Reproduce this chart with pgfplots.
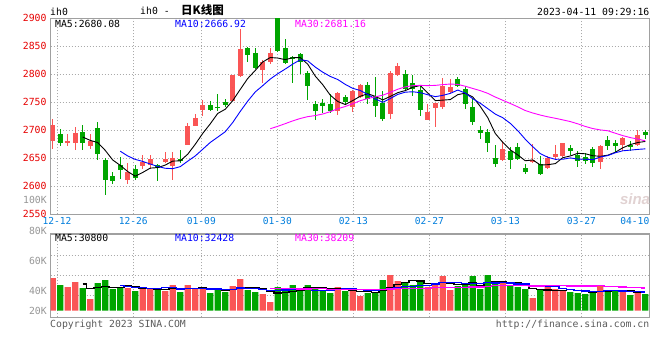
\documentclass[border=0pt]{standalone}
\usepackage{pgfplots}
\pgfplotsset{compat=1.18}
\usepackage{pgfplotstable}
\usepackage{fontspec}
\setmainfont{DejaVu Sans Mono}
\newfontfamily\cjk{Noto Sans CJK SC}
\newfontfamily\logofont{Liberation Sans}
\definecolor{cup}{RGB}{250,85,85}
\definecolor{cdn}{RGB}{0,165,0}
\definecolor{pricered}{RGB}{230,0,0}
\definecolor{dateblue}{RGB}{0,125,220}
\definecolor{bordergray}{RGB}{160,160,160}
\definecolor{gridgray}{RGB}{170,170,170}
\definecolor{labgray}{RGB}{150,150,150}
\definecolor{footgray}{RGB}{90,90,90}
\definecolor{mablue}{RGB}{0,0,255}
\definecolor{mamag}{RGB}{255,0,255}
\newcommand{\tf}{\fontsize{9.8}{10}\selectfont}

% candles: index, open, high, low, close, volume (bar height)
\pgfplotstableread{
i o h l c v
0 2681.6 2720.8 2666.1 2710.1 32.7
2 2676.8 2694.1 2671.4 2680.4 23.7
3 2676.8 2706.6 2664.3 2695.8 28.7
5 2671.4 2694.1 2666.1 2680.4 11.7
10 2610.7 2641.1 2604.8 2625.6 22.7
12 2635.7 2655.4 2631.0 2644.1 21.7
13 2638.1 2656.6 2631.0 2649.4 21.7
15 2642.9 2661.3 2641.1 2648.2 19.7
16 2635.7 2661.3 2610.7 2650.6 25.7
18 2674.4 2713.1 2673.2 2708.3 25.7
19 2708.3 2729.2 2707.1 2721.4 21.7
20 2736.9 2754.2 2726.2 2745.8 21.7
24 2753.0 2799.4 2751.8 2798.2 24.7
25 2797.0 2881.5 2795.8 2845.8 31.7
28 2807.7 2826.2 2784.5 2821.4 16.7
29 2821.4 2847.0 2818.5 2838.1 8.7
38 2733.9 2767.9 2726.8 2766.1 23.7
40 2741.7 2772.6 2733.3 2770.8 21.7
41 2760.1 2783.3 2757.7 2781.6 14.7
45 2728.6 2805.4 2720.8 2801.8 35.7
46 2798.2 2819.6 2797.6 2815.5 29.7
50 2719.1 2747.6 2717.9 2733.3 23.7
51 2739.3 2749.4 2705.4 2748.2 27.7
52 2741.1 2794.1 2737.5 2779.2 34.7
53 2769.1 2792.3 2767.3 2778.0 20.7
60 2646.4 2680.4 2644.7 2667.3 27.7
64 2643.5 2675.6 2641.1 2647.0 12.7
66 2633.3 2654.2 2630.4 2650.0 23.7
67 2651.8 2674.4 2649.4 2658.3 21.7
68 2653.6 2678.0 2652.4 2678.0 19.7
73 2644.1 2673.2 2631.6 2672.6 24.7
76 2673.8 2687.5 2662.5 2685.7 18.7
78 2674.4 2701.2 2672.0 2691.1 17.7
}\up
\pgfplotstableread{
i o h l c v
1 2694.1 2703.0 2671.4 2676.8 25.7
4 2697.6 2708.9 2664.3 2676.8 22.7
6 2704.8 2714.3 2646.4 2657.2 27.7
7 2647.6 2650.6 2585.1 2610.7 30.7
8 2618.5 2625.6 2603.6 2610.1 21.7
9 2637.5 2652.4 2613.7 2628.6 23.7
11 2631.6 2637.5 2610.7 2614.9 19.7
14 2637.5 2639.9 2608.9 2632.8 22.7
17 2648.2 2665.5 2641.1 2646.4 18.7
21 2745.8 2751.8 2733.9 2735.7 17.7
22 2742.3 2764.9 2735.1 2739.3 21.7
23 2750.6 2755.4 2742.3 2745.8 18.7
26 2847.0 2849.4 2821.4 2833.9 20.7
27 2838.7 2847.6 2808.9 2810.7 18.7
30 2900.0 2900.0 2839.9 2841.1 23.7
31 2847.6 2863.7 2819.0 2819.6 21.7
32 2831.0 2832.7 2783.9 2828.0 25.7
33 2835.7 2838.1 2800.6 2822.6 20.7
34 2803.0 2805.4 2753.6 2778.6 25.7
35 2747.6 2752.4 2717.9 2735.1 23.7
36 2749.4 2756.6 2731.6 2742.9 20.7
37 2747.6 2764.9 2731.6 2734.5 17.7
39 2760.1 2763.1 2744.7 2751.2 19.7
42 2781.6 2786.3 2747.0 2756.6 17.7
43 2761.9 2794.6 2723.2 2742.9 18.7
44 2748.2 2770.8 2716.1 2719.7 30.7
47 2801.2 2808.3 2772.6 2774.4 27.7
48 2785.1 2799.4 2760.7 2773.2 25.7
49 2771.4 2779.2 2726.2 2735.7 29.7
54 2792.3 2795.2 2778.0 2779.8 24.7
55 2773.8 2779.8 2738.1 2746.4 25.7
56 2741.7 2757.7 2710.1 2714.3 34.7
57 2700.0 2708.3 2683.9 2694.7 21.7
58 2697.6 2703.0 2660.7 2676.8 35.7
59 2651.2 2674.4 2635.1 2639.3 27.7
61 2663.7 2670.8 2630.4 2647.6 24.7
62 2670.8 2678.0 2646.4 2648.8 23.7
63 2633.3 2639.9 2622.0 2625.0 21.7
65 2639.9 2654.2 2619.7 2622.0 21.7
69 2668.5 2674.4 2656.6 2662.5 18.7
70 2656.0 2663.7 2633.9 2645.8 17.7
71 2653.0 2660.1 2639.9 2645.8 16.7
72 2667.3 2669.6 2635.1 2641.1 17.7
74 2682.1 2690.5 2664.3 2672.6 20.7
75 2678.0 2682.7 2660.7 2672.0 20.7
77 2674.4 2681.6 2662.5 2669.6 15.7
79 2697.0 2700.6 2685.1 2691.1 16.7
}\down

\pgfplotstableread{
i m
4 2688.0
5 2682.0
6 2678.1
7 2664.2
8 2647.0
9 2637.4
10 2626.4
11 2618.0
12 2624.7
13 2632.5
14 2633.4
15 2637.9
16 2645.0
17 2645.5
18 2657.3
19 2675.0
20 2694.5
21 2711.5
22 2730.1
23 2737.6
24 2753.0
25 2773.0
26 2792.6
27 2806.9
28 2822.0
29 2830.0
30 2829.0
31 2826.2
32 2829.6
33 2829.9
34 2818.0
35 2796.8
36 2781.4
37 2762.7
38 2751.4
39 2746.0
40 2753.1
41 2760.8
42 2765.3
43 2760.6
44 2754.3
45 2760.5
46 2767.3
47 2770.9
48 2776.9
49 2780.1
50 2766.4
51 2753.0
52 2753.9
53 2754.9
54 2763.7
55 2766.3
56 2759.5
57 2742.6
58 2722.4
59 2694.3
60 2678.5
61 2665.1
62 2656.0
63 2645.6
64 2647.1
65 2638.1
66 2638.6
67 2640.5
68 2651.1
69 2654.2
70 2658.9
71 2658.1
72 2654.6
73 2653.6
74 2655.6
75 2660.8
76 2668.8
77 2674.5
78 2678.2
79 2680.1
}\maA
\pgfplotstableread{
i m
9 2662.7
10 2654.2
11 2648.1
12 2644.4
13 2639.8
14 2635.4
15 2632.2
16 2631.5
17 2635.1
18 2644.9
19 2654.2
20 2666.2
21 2678.3
22 2687.8
23 2697.4
24 2714.0
25 2733.7
26 2752.1
27 2768.5
28 2779.8
29 2791.5
30 2801.0
31 2809.4
32 2818.3
33 2825.9
34 2824.0
35 2812.9
36 2803.8
37 2796.2
38 2790.7
39 2782.0
40 2774.9
41 2771.1
42 2764.0
43 2756.0
44 2750.1
45 2756.8
46 2764.1
47 2768.1
48 2768.8
49 2767.2
50 2763.5
51 2760.1
52 2762.4
53 2765.9
54 2771.9
55 2766.4
56 2756.3
57 2748.3
58 2738.6
59 2729.0
60 2722.4
61 2712.3
62 2699.3
63 2684.0
64 2670.7
65 2658.3
66 2651.9
67 2648.2
68 2648.3
69 2650.7
70 2648.5
71 2648.3
72 2647.6
73 2652.3
74 2654.9
75 2659.9
76 2663.4
77 2664.6
78 2665.9
79 2666.9
}\maB
\pgfplotstableread{
i m
29 2702.8
30 2707.1
31 2711.9
32 2716.8
33 2721.1
34 2724.4
35 2726.3
36 2729.1
37 2733.3
38 2738.5
39 2742.5
40 2747.4
41 2752.9
42 2756.7
43 2759.8
44 2762.7
45 2767.8
46 2773.3
47 2777.6
48 2779.7
49 2780.2
50 2779.8
51 2780.2
52 2781.6
53 2782.6
54 2782.0
55 2778.7
56 2774.7
57 2770.8
58 2766.0
59 2759.4
60 2753.6
61 2747.9
62 2741.9
63 2735.3
64 2730.9
65 2727.2
66 2724.1
67 2721.5
68 2718.6
69 2715.6
70 2711.5
71 2706.9
72 2703.1
73 2700.7
74 2699.2
75 2694.8
76 2690.5
77 2687.0
78 2684.3
79 2681.2
}\maC

\pgfplotstableread{
i m
4 26.7
5 22.5
6 22.9
7 24.3
8 22.9
9 23.1
10 25.3
11 23.7
12 21.9
13 21.9
14 21.7
15 21.1
16 22.3
17 21.7
18 22.5
19 22.3
20 22.7
21 21.1
22 21.7
23 20.3
24 20.9
25 22.9
26 23.5
27 22.9
28 22.5
29 19.3
30 17.7
31 17.9
32 19.3
33 20.1
34 23.5
35 23.5
36 23.3
37 21.7
38 22.3
39 21.1
40 20.7
41 19.5
42 19.5
43 18.5
44 20.7
45 23.5
46 26.5
47 28.5
48 29.9
49 29.7
50 27.3
51 26.9
52 28.3
53 27.3
54 26.3
55 26.7
56 28.1
57 25.5
58 28.5
59 29.1
60 29.5
61 27.5
62 27.9
63 25.1
64 22.1
65 20.9
66 20.7
67 20.3
68 19.9
69 21.1
70 20.3
71 18.9
72 18.1
73 19.1
74 19.5
75 20.1
76 20.5
77 20.1
78 18.7
79 17.9
}\vmaA
\pgfplotstableread{
i m
9 24.9
10 23.9
11 23.3
12 23.1
13 22.4
14 22.4
15 23.2
16 23.0
17 21.8
18 22.2
19 22.0
20 21.9
21 21.7
22 21.7
23 21.4
24 21.6
25 22.8
26 22.3
27 22.3
28 21.4
29 20.1
30 20.3
31 20.7
32 21.1
33 21.3
34 21.4
35 20.6
36 20.6
37 20.5
38 21.2
39 22.3
40 22.1
41 21.4
42 20.6
43 20.4
44 20.9
45 22.1
46 23.0
47 24.0
48 24.2
49 25.2
50 25.4
51 26.7
52 28.4
53 28.6
54 28.0
55 27.0
56 27.5
57 26.9
58 27.9
59 27.7
60 28.1
61 27.8
62 26.7
63 26.8
64 25.6
65 25.2
66 24.1
67 24.1
68 22.5
69 21.6
70 20.6
71 19.8
72 19.2
73 19.5
74 20.3
75 20.2
76 19.7
77 19.1
78 18.9
79 18.7
}\vmaB
\pgfplotstableread{
i m
29 22.3
30 22.0
31 21.9
32 22.0
33 21.7
34 21.8
35 22.2
36 22.0
37 21.5
38 21.6
39 21.5
40 21.4
41 21.3
42 21.1
43 21.0
44 21.3
45 21.8
46 22.0
47 22.3
48 22.3
49 22.5
50 22.6
51 22.9
52 23.4
53 23.4
54 23.4
55 23.2
56 23.7
57 23.8
58 24.4
59 25.1
60 25.2
61 25.3
62 25.2
63 25.3
64 24.8
65 24.8
66 24.9
67 25.0
68 24.9
69 24.8
70 24.7
71 24.8
72 24.8
73 25.0
74 24.6
75 24.1
76 23.8
77 23.4
78 23.1
79 22.7
}\vmaC

\pgfplotsset{
  kbase/.style={
    scale only axis, width=598.6pt, anchor=south west,
    xmin=-0.267, xmax=79.53,
    axis line style={bordergray, line width=1.3pt},
    major tick length=0pt,
    xmajorgrids, ymajorgrids,
    grid style={gridgray, dash pattern=on 1pt off 2pt, line width=0.8pt},
    xtick={0.573,10.747,19.813,29.947,40.08,50.213,60.347,70.48},
    scaled ticks=false,
  },
  wick/.style={only marks, mark=*, mark size=0pt,
    mark options={draw=none, fill=none}, forget plot,
    error bars/.cd, y dir=both, y explicit, error mark=none,
    error bar style={draw=#1, line width=1pt, solid}},
  body/.style={only marks, mark=*, mark size=0pt,
    mark options={draw=none, fill=none}, forget plot,
    error bars/.cd, y dir=both, y explicit, error mark=none,
    error bar style={draw=#1, line width=5.3pt, solid}},
}

\begin{document}
\begin{tikzpicture}
\path[use as bounding box] (0,0) rectangle (660pt,360pt);

% ---------- price panel ----------
\begin{axis}[kbase, height=196pt, at={(50.7pt,145.7pt)},
  ymin=2550, ymax=2900,
  ytick={2550,2600,2650,2700,2750,2800,2850,2900},
  yticklabels={2550,2600,2650,2700,2750,2800,2850,2900},
  yticklabel style={text=pricered, font=\tf, inner sep=0pt, xshift=-4pt},
  xticklabels={12-12,12-26,01-09,01-30,02-13,02-27,03-13,03-27},
  extra x ticks={77.6}, extra x tick labels={04-10},
  extra x tick style={grid=none},
  xticklabel style={text=dateblue, font=\fontsize{9.6}{10}\selectfont, inner sep=0pt, yshift=-3pt},
]
\addplot[wick=cup] table[x=i, y expr={(\thisrow{h}+\thisrow{l})/2}, y error expr={(\thisrow{h}-\thisrow{l})/2}] {\up};
\addplot[wick=cdn] table[x=i, y expr={(\thisrow{h}+\thisrow{l})/2}, y error expr={(\thisrow{h}-\thisrow{l})/2}] {\down};
\addplot[body=cup] table[x=i, y expr={(\thisrow{o}+\thisrow{c})/2}, y error expr={abs(\thisrow{c}-\thisrow{o})/2}] {\up};
\addplot[body=cdn] table[x=i, y expr={(\thisrow{o}+\thisrow{c})/2}, y error expr={abs(\thisrow{c}-\thisrow{o})/2}] {\down};
\addplot[black, line width=0.9pt] table[x=i, y=m] {\maA};
\addplot[mablue, line width=0.9pt] table[x=i, y=m] {\maB};
\addplot[mamag, line width=0.9pt] table[x=i, y=m] {\maC};
\end{axis}

% ---------- volume panel ----------
\begin{axis}[kbase, height=83.3pt, at={(50.7pt,42.7pt)},
  ymin=-6.6, ymax=76.7,
  ytick={15,35,55.4}, yticklabels={},
  xticklabels={},
]
\addplot[ybar, bar width=6.2pt, bar shift=0pt, fill=cup, draw=none] table[x=i, y=v] {\up};
\addplot[ybar, bar width=6.2pt, bar shift=0pt, fill=cdn, draw=none] table[x=i, y=v] {\down};
\addplot[black, line width=1.2pt, const plot mark mid] table[x=i, y=m] {\vmaA};
\addplot[mablue, line width=1.2pt, const plot mark mid] table[x=i, y=m] {\vmaB};
\addplot[mamag, line width=1.2pt, const plot mark mid] table[x=i, y=m] {\vmaC};
\end{axis}

% ---------- texts ----------
\tf
\node[anchor=west, inner sep=0pt] at (50pt,348pt) {ih0};
\node[anchor=west, inner sep=0pt] at (140pt,349pt) {ih0 -};
\node[anchor=west, inner sep=0pt] at (181pt,349.5pt) {\cjk\bfseries\fontsize{11.5}{12}\selectfont 日K线图};
\node[anchor=east, inner sep=0pt] at (649.5pt,348pt) {2023-04-11 09:29:16};

\node[anchor=west, inner sep=0pt] at (55pt,336pt) {MA5:2680.08};
\node[anchor=west, inner sep=0pt, text=mablue] at (175pt,336pt) {MA10:2666.92};
\node[anchor=west, inner sep=0pt, text=mamag] at (295pt,336pt) {MA30:2681.16};

\node[anchor=west, inner sep=0pt] at (55pt,121.7pt) {MA5:30800};
\node[anchor=west, inner sep=0pt, text=mablue] at (175pt,121.7pt) {MA10:32428};
\node[anchor=west, inner sep=0pt, text=mamag] at (295pt,121.7pt) {MA30:38209};

\node[anchor=east, inner sep=0pt, text=labgray] at (47pt,160pt) {100K};
\node[anchor=east, inner sep=0pt, text=labgray] at (47pt,129.3pt) {80K};
\node[anchor=east, inner sep=0pt, text=labgray] at (47pt,99.3pt) {60K};
\node[anchor=east, inner sep=0pt, text=labgray] at (47pt,69.3pt) {40K};
\node[anchor=east, inner sep=0pt, text=labgray] at (47pt,49.3pt) {20K};

\node[anchor=base west, inner sep=0pt, text=footgray] at (50pt,33pt) {Copyright 2023 SINA.COM};
\node[anchor=base east, inner sep=0pt, text=footgray] at (649.5pt,33pt) {http://finance.sina.com.cn};

\node[inner sep=0pt, text={rgb,255:red,225;green,210;blue,210}] at (635pt,161pt) {\logofont\bfseries\itshape\fontsize{15}{15}\selectfont sina};
\end{tikzpicture}
\end{document}
